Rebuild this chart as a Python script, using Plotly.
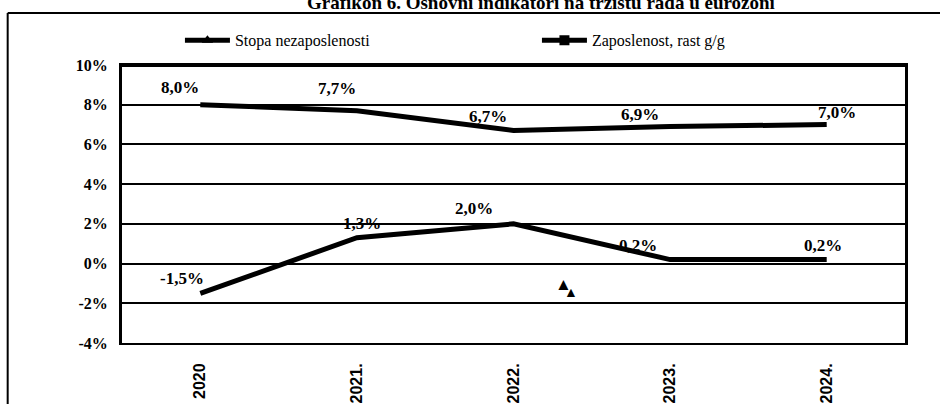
import plotly.graph_objects as go

# ---- data ----
years = ["2020", "2021.", "2022.", "2023.", "2024."]
stopa_nezaposlenosti = [8.0, 7.7, 6.7, 6.9, 7.0]
zaposlenost_rast = [-1.5, 1.3, 2.0, 0.2, 0.2]
stopa_labels = ["8,0%", "7,7%", "6,7%", "6,9%", "7,0%"]
zaposlenost_labels = ["-1,5%", "1,3%", "2,0%", "0,2%", "0,2%"]
y_ticks = [-4, -2, 0, 2, 4, 6, 8, 10]
y_tick_labels = ["-4%", "-2%", "0%", "2%", "4%", "6%", "8%", "10%"]
series_names = ["Stopa nezaposlenosti", "Zaposlenost, rast g/g"]
title_text = "Grafikon 6. Osnovni indikatori na tržištu rada u eurozoni"

# ---- label placement (style: pixel offsets from each point) ----
stopa_dx = [-20, -20, -26, -30, 10]
stopa_dy = [17, 22, 14, 12, 12]
zap_dx = [-18, 5, -40, -32, -4]
zap_dy = [15, 14, 15, 14, 14]

SERIF = "Liberation Serif, Times New Roman, serif"
SANS = "Liberation Sans, Arial, sans-serif"

fig = go.Figure()

for vals in (stopa_nezaposlenosti, zaposlenost_rast):
    fig.add_trace(go.Scatter(
        x=years, y=vals, mode="lines",
        line=dict(color="black", width=5),
        showlegend=False,
    ))

# legend-only entries
fig.add_trace(go.Scatter(
    x=[None], y=[None], mode="lines+markers", name=series_names[0],
    line=dict(color="black", width=5),
    marker=dict(symbol="triangle-up", size=10, color="black"),
))
fig.add_trace(go.Scatter(
    x=[None], y=[None], mode="lines+markers", name=series_names[1],
    line=dict(color="black", width=5),
    marker=dict(symbol="square", size=10, color="black"),
))

annotations = []
for ys, labs, dxs, dys in (
    (stopa_nezaposlenosti, stopa_labels, stopa_dx, stopa_dy),
    (zaposlenost_rast, zaposlenost_labels, zap_dx, zap_dy),
):
    for i, (yv, lab, dx, dy) in enumerate(zip(ys, labs, dxs, dys)):
        annotations.append(dict(
            text="<b>" + lab + "</b>", x=i, y=yv, xref="x", yref="y",
            xshift=dx, yshift=dy, showarrow=False,
            font=dict(family=SERIF, size=17, color="black"),
        ))

annotations += [
    dict(text="<b>" + title_text + "</b>", xref="paper", yref="paper",
         x=0.535, y=1.0, yshift=63, xanchor="center", yanchor="middle",
         showarrow=False, font=dict(family=SERIF, size=19, color="black")),
    dict(text="▲", xref="x", yref="y", x=2.32, y=-1.05, showarrow=False,
         font=dict(size=17, color="black")),
    dict(text="▲", xref="x", yref="y", x=2.365, y=-1.45, showarrow=False,
         font=dict(size=14, color="black")),
]

fig.update_layout(
    width=940, height=404,
    margin=dict(l=122, r=35, t=65, b=61, autoexpand=False),
    paper_bgcolor="white", plot_bgcolor="white",
    font=dict(family=SERIF, color="black"),
    legend=dict(
        orientation="h", x=0.074, y=1.15, xanchor="left", yanchor="top",
        font=dict(family=SERIF, size=16, color="black"),
        entrywidth=297, entrywidthmode="pixels",
        itemwidth=45, bgcolor="rgba(0,0,0,0)",
    ),
    xaxis=dict(
        type="category", range=[-0.5, len(years) - 0.5],
        showgrid=False, showline=True, linecolor="black", linewidth=2,
        mirror=True, tickangle=-90, ticks="", ticklabelstandoff=12,
        tickfont=dict(family=SANS, size=16, color="black", weight="bold"),
        fixedrange=True,
    ),
    yaxis=dict(
        range=[-4, 10], tickvals=y_ticks,
        ticktext=["<b>" + t + "</b>" for t in y_tick_labels],
        showgrid=True, gridcolor="black", gridwidth=2,
        zeroline=False, showline=True, linecolor="black", linewidth=3,
        mirror=True, ticks="outside", ticklen=0, tickcolor="white",
        ticklabelstandoff=8,
        tickfont=dict(family=SERIF, size=16, color="black"),
        fixedrange=True,
    ),
    annotations=annotations,
    shapes=[
        dict(type="line", xref="paper", yref="y", x0=0, x1=1, y0=10, y1=10,
             line=dict(color="black", width=4)),
        dict(type="line", xref="paper", yref="paper", x0=-0.146, x1=-0.146,
             y0=-0.3, y1=1.187, line=dict(color="black", width=2)),
        dict(type="line", xref="paper", yref="paper", x0=-0.146, x1=1.05,
             y0=1.187, y1=1.187, line=dict(color="black", width=2)),
    ],
)

fig.write_html(
    "out.html",
    config={"displayModeBar": False},
    post_script="document.body.style.margin='0';document.body.style.overflow='hidden';",
)
